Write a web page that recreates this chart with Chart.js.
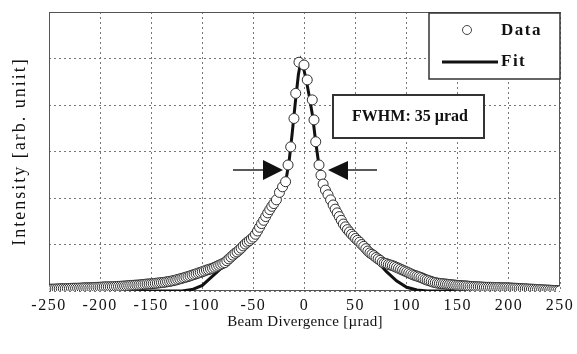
<!DOCTYPE html>
<html><head><meta charset="utf-8">
<script src="https://cdn.jsdelivr.net/npm/chart.js@4.4.1/dist/chart.umd.min.js"></script>
<style>html,body{margin:0;padding:0;background:#fff}canvas{display:block}</style>
</head><body>
<canvas id="c" width="577" height="354"></canvas>
<script>
// ---- values (y in arbitrary units on a 0..6 grid) ----
const xTickValues = [-250,-200,-150,-100,-50,0,50,100,150,200,250];

const leftTailX = [
 -250,-248,-246,-244,-242,-240,-238,-236,-234,-232,
 -230,-228,-226,-224,-222,-220,-218,-216,-214,-212,
 -210,-208,-206,-204,-202,-200,-198,-196,-194,-192,
 -190,-188,-186,-184,-182,-180,-178,-176,-174,-172,
 -170,-168,-166,-164,-162,-160,-158,-156,-154,-152,
 -150,-148,-146,-144,-142,-140,-138,-136,-134,-132,
 -130,-128,-126,-124,-122,-120,-118,-116,-114,-112,
 -110,-108,-106,-104,-102];
const leftTailY = [
 .040,.040,.040,.042,.045,.047,.050,.050,.050,.052,
 .055,.058,.060,.060,.060,.062,.065,.068,.070,.070,
 .070,.072,.075,.078,.080,.082,.085,.088,.090,.090,
 .090,.092,.095,.098,.100,.102,.105,.108,.110,.115,
 .120,.122,.125,.128,.130,.135,.140,.145,.150,.152,
 .155,.160,.165,.170,.175,.180,.185,.192,.200,.207,
 .215,.225,.235,.248,.260,.272,.285,.298,.310,.325,
 .340,.355,.370,.385,.400];

const leftFlankX = [
 -100,-98,-96,-94,-92,-90,-88,-86,-84,-82,
 -80,-78,-76,-74,-72,-70,-68,-66,-64,-62,
 -60,-58,-56,-54,-52,-50,-48,-46,-44,-42,
 -40,-38,-36,-34,-32,-30];
const leftFlankY = [
 .415,.43,.45,.46,.475,.49,.51,.53,.55,.57,
 .59,.61,.65,.69,.73,.77,.81,.84,.88,.92,
 .97,1.01,1.05,1.08,1.12,1.16,1.22,1.29,1.37,1.45,
 1.52,1.60,1.68,1.75,1.82,1.88];

const peakX = [
 -27.5,-24.5,-21.5,-18.5,-16.1,-13.5,-10.3,-8.6,-5.4,-0.5,
 2.7,7.6,9.3,11,14.2,16.1,18.2,20.5,23,25.5];
const peakY = [
 1.96,2.12,2.24,2.35,2.71,3.10,3.71,4.25,4.92,4.86,
 4.54,4.11,3.68,3.21,2.71,2.49,2.30,2.17,2.07,1.96];

const rightX = [
 28,30,32,34,36,38,40,42,44,46,
 48,50,52,54,56,58,60,62,64,66,
 68,70,72,74,76,78,80,82,84,86,
 88,90,92,94,96,98,100,102,104,106,
 108,110,112,114,116,118,120,122,124,126,
 128,130,132,134,136,138,140,142,144,146,
 148,150,152,154,156,158,160,162,164,166,
 168,170,172,174,176,178,180,182,184,186,
 188,190,192,194,196,198,200,202,204,206,
 208,210,212,214,216,218,220,222,224,226,
 228,230,232,234,236,238,240,242,244,246,
 248,250];
const rightY = [
 1.85,1.76,1.68,1.60,1.52,1.44,1.38,1.32,1.27,1.22,
 1.18,1.13,1.09,1.05,1.00,0.96,0.91,0.86,0.82,0.79,
 .76,.72,.69,.66,.62,.60,.59,.57,.56,.545,
 .53,.51,.49,.47,.45,.43,.41,.39,.37,.35,
 .335,.32,.305,.29,.27,.25,.235,.22,.205,.19,
 .18,.17,.165,.16,.155,.15,.145,.14,.135,.13,
 .125,.12,.118,.115,.112,.11,.105,.10,.098,.095,
 .092,.09,.088,.085,.082,.08,.08,.08,.078,.075,
 .075,.075,.072,.07,.07,.07,.068,.065,.062,.06,
 .058,.055,.052,.05,.048,.045,.042,.04,.038,.035,
 .032,.03,.028,.025,.022,.02,.018,.015,.012,.01,
 .008,.005];

const fitX = [-250,-130,-120,-110,-100,-90,-80,-70,-60,-50,-42,-35,-28,-22,-18,-15,-12,-9,-6,
 -3.5,-1,2,5,8,11,14,17,21,26,32,40,50,60,70,80,90,100,110,120,250];
const fitY = [0,0,0,0.03,0.12,0.32,0.52,0.72,0.92,1.10,1.38,1.66,1.92,2.14,2.40,2.80,3.40,4.05,4.65,
 4.95,4.80,4.50,4.15,3.75,3.20,2.72,2.36,2.10,1.84,1.55,1.30,1.08,0.86,0.66,0.42,0.22,0.08,0.02,0,0];

const seriesNames = ['Data','Fit'];
const xTitle = 'Beam Divergence [\u00B5rad]';
const yTitle = 'Intensity [arb. uniit]';
const noteText = 'FWHM: 35 \u00B5rad';

const SERIF = '"Liberation Serif", "DejaVu Serif", serif';

const deco = {
  id: 'deco',
  beforeDraw(chart) { chart.ctx.letterSpacing = '1.5px'; },
  beforeDatasetsDraw(chart) {
    const ctx = chart.ctx, a = chart.chartArea;
    ctx.letterSpacing = '0px';
    ctx.save();
    ctx.strokeStyle = '#555'; ctx.lineWidth = 1;
    ctx.strokeRect(a.left + 0.5, a.top + 0.5, a.right - a.left - 1, a.bottom - a.top - 1);
    ctx.restore();
  },
  afterDraw(chart) {
    const ctx = chart.ctx;
    ctx.save();
    // legend box
    ctx.fillStyle = '#fff'; ctx.strokeStyle = '#333'; ctx.lineWidth = 1.5;
    ctx.fillRect(429, 13, 131, 66); ctx.strokeRect(429, 13, 131, 66);
    ctx.beginPath(); ctx.arc(467, 30, 4.5, 0, Math.PI * 2);
    ctx.fillStyle = '#fff'; ctx.fill(); ctx.lineWidth = 1; ctx.strokeStyle = '#444'; ctx.stroke();
    ctx.beginPath(); ctx.moveTo(442, 62); ctx.lineTo(498, 62);
    ctx.lineWidth = 3; ctx.strokeStyle = '#111'; ctx.stroke();
    ctx.fillStyle = '#111'; ctx.font = 'bold 17px ' + SERIF; ctx.letterSpacing = '1.5px';
    ctx.textAlign = 'left'; ctx.textBaseline = 'middle';
    ctx.fillText(seriesNames[0], 501, 31);
    ctx.fillText(seriesNames[1], 501, 62);
    // FWHM box
    ctx.fillStyle = '#fff'; ctx.fillRect(333, 95, 151, 43);
    ctx.strokeStyle = '#333'; ctx.lineWidth = 2; ctx.strokeRect(333, 95, 151, 43);
    ctx.fillStyle = '#111'; ctx.font = 'bold 16px ' + SERIF; ctx.letterSpacing = '0px';
    ctx.textAlign = 'center'; ctx.fillText(noteText, 410, 117);
    // arrows
    ctx.strokeStyle = '#222'; ctx.lineWidth = 1.5; ctx.fillStyle = '#111';
    ctx.beginPath(); ctx.moveTo(233, 170); ctx.lineTo(266, 170); ctx.stroke();
    ctx.beginPath(); ctx.moveTo(263, 160); ctx.lineTo(283, 170); ctx.lineTo(263, 180); ctx.closePath(); ctx.fill();
    ctx.beginPath(); ctx.moveTo(377, 170); ctx.lineTo(345, 170); ctx.stroke();
    ctx.beginPath(); ctx.moveTo(348, 161); ctx.lineTo(328, 170); ctx.lineTo(348, 180); ctx.closePath(); ctx.fill();
    // axis titles
    ctx.fillStyle = '#111';
    ctx.font = '15px ' + SERIF; ctx.letterSpacing = '0.3px';
    ctx.textAlign = 'center'; ctx.textBaseline = 'middle';
    ctx.fillText(xTitle, 305, 322);
    ctx.translate(20, 151.5); ctx.rotate(-Math.PI / 2);
    ctx.font = '18px ' + SERIF; ctx.letterSpacing = '2px';
    ctx.fillText(yTitle, 0, 0);
    ctx.restore();
    ctx.letterSpacing = '0px';
  }
};

const toPts = (xs, ys) => xs.map((x, i) => ({ x: x, y: ys[i] }));
const dataPts = [].concat(
  toPts(leftTailX, leftTailY), toPts(leftFlankX, leftFlankY),
  toPts(peakX, peakY), toPts(rightX, rightY));

new Chart(document.getElementById('c'), {
  type: 'scatter',
  data: {
    datasets: [
      { label: seriesNames[0], data: dataPts, pointRadius: 5, pointBorderWidth: 1,
        pointBorderColor: '#2e2e2e', pointBackgroundColor: '#ffffff', showLine: false },
      { label: seriesNames[1], data: toPts(fitX, fitY), showLine: true, pointRadius: 0,
        borderColor: '#111', borderWidth: 3, tension: 0 }
    ]
  },
  options: {
    responsive: false, animation: false, devicePixelRatio: 1,
    layout: { padding: { top: 12, right: 16, bottom: 0, left: 0 } },
    plugins: { legend: { display: false }, tooltip: { enabled: false } },
    scales: {
      x: {
        type: 'linear', min: -250, max: 250,
        afterBuildTicks: (s) => { s.ticks = xTickValues.map(v => ({ value: v })); },
        afterFit: (s) => { s.height = 63; },
        grid: { color: '#777', lineWidth: 1, drawTicks: false },
        border: { display: false, dash: [2, 3] },
        ticks: { color: '#111', padding: 5, maxRotation: 0, font: { family: SERIF, size: 16 },
                 callback: (v) => String(v) }
      },
      y: {
        type: 'linear', min: 0, max: 6,
        afterFit: (s) => { s.width = 49; },
        grid: { color: '#777', lineWidth: 1, drawTicks: false },
        border: { display: false, dash: [2, 3] },
        ticks: { display: false, stepSize: 1 }
      }
    }
  },
  plugins: [deco]
});
</script>
</body></html>
